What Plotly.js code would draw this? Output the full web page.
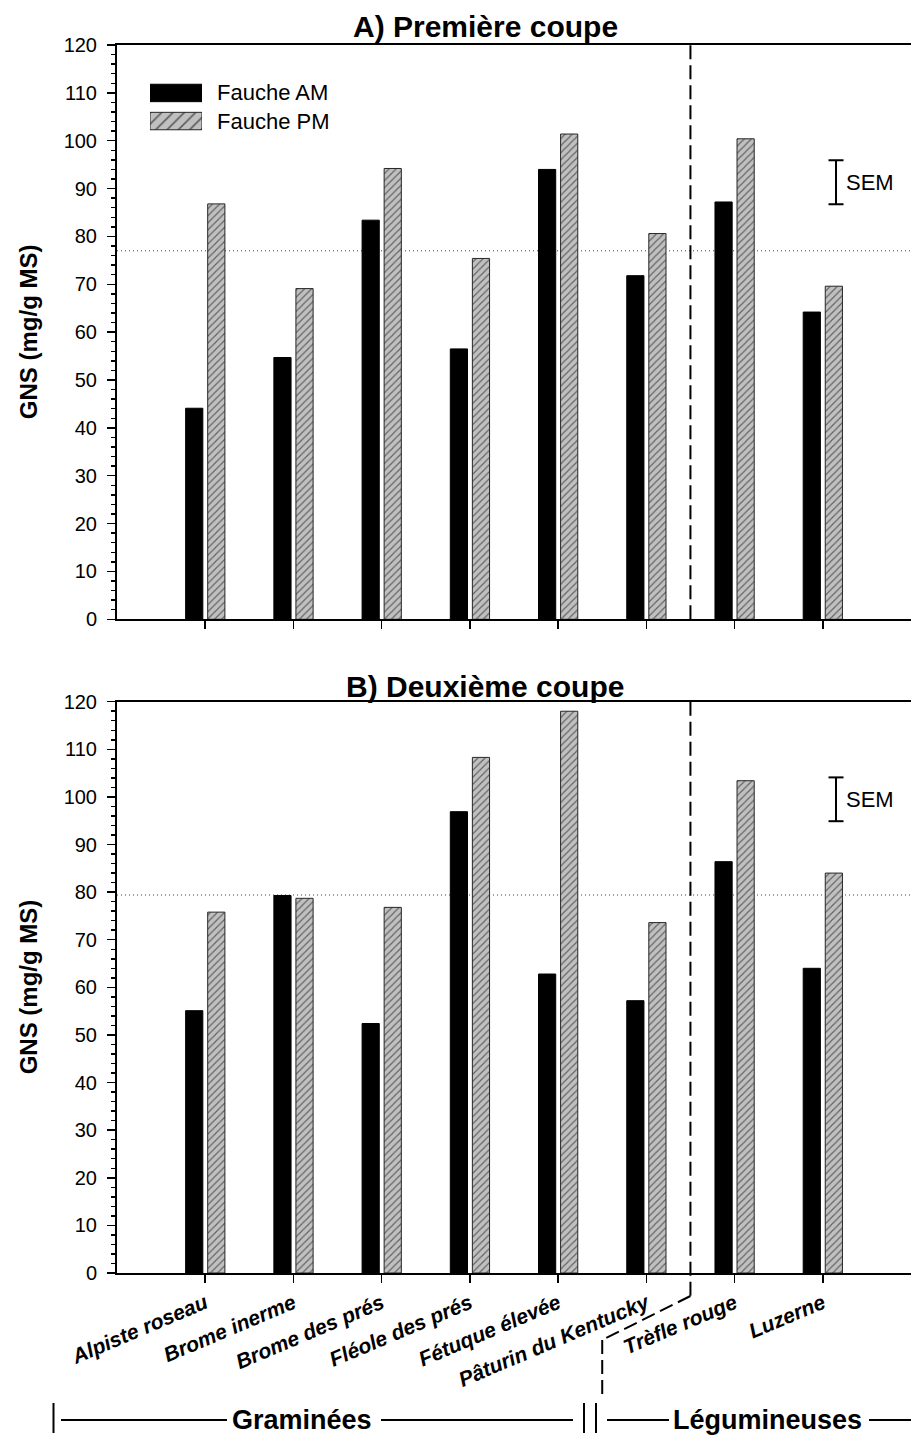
<!DOCTYPE html>
<html><head><meta charset="utf-8">
<script src="https://cdn.plot.ly/plotly-3.0.1.min.js"></script>
<style>html,body{margin:0;padding:0;background:#fff}#chart{width:911px;height:1436px}</style>
</head><body><div id="chart"></div>
<script>
// ---- data ----
const categories = ['Alpiste roseau','Brome inerme','Brome des prés','Fléole des prés','Fétuque élevée','Pâturin du Kentucky','Trèfle rouge','Luzerne'];
const legendNames = ['Fauche AM','Fauche PM'];
const amCut1 = [44.1, 54.7, 83.4, 56.5, 94.0, 71.8, 87.2, 64.2];
const pmCut1 = [86.8, 69.1, 94.2, 75.4, 101.4, 80.6, 100.4, 69.6];
const amCut2 = [55.1, 79.3, 52.4, 96.9, 62.8, 57.2, 86.4, 64.0];
const pmCut2 = [75.8, 78.7, 76.8, 108.3, 118.0, 73.6, 103.4, 84.0];
const meanLine = [77.0, 79.4];
const semCenter = [91.3, 99.5];
const semSize = [9.2, 9.2];
const panelTitles = ['A) Première coupe','B) Deuxième coupe'];
const groupNames = ['Graminées','Légumineuses'];
const yTitle = 'GNS (mg/g MS)';
const semLabel = 'SEM';

// ---- layout geometry ----
const W = 911, H = 1436, L = 117, R = 0, T = 45, B = 163;
const PW = W - L - R, PH = H - T - B;
const px2x = p => (p - L) / PW;
const px2y = p => (H - B - p) / PH;
const FONT = 'Liberation Sans, Arial, Helvetica, sans-serif';

const amMarker = {color:'#000000', line:{color:'#000000', width:1}};
const pmMarker = s => ({color:'#c0c0c0', line:{color:'#262626', width:1},
  pattern:{shape:'/', fgcolor:'#000000', bgcolor:'#c0c0c0', size:s, solidity:0.22, fillmode:'overlay'}});

const traces = [];
[[amCut1, pmCut1, 'x', 'y'], [amCut2, pmCut2, 'x2', 'y2']].forEach(([am, pm, xa, ya]) => {
  traces.push({type:'bar', x:categories, y:am, xaxis:xa, yaxis:ya, width:0.195, offset:-0.222,
    marker:amMarker, showlegend:false, hoverinfo:'x+y'});
  traces.push({type:'bar', x:categories, y:pm, xaxis:xa, yaxis:ya, width:0.195, offset:0.028,
    marker:pmMarker(5), showlegend:false, hoverinfo:'x+y'});
});
// legend swatches on their own small axes
traces.push({type:'bar', orientation:'h', x:[1], y:[legendNames[0]], xaxis:'x3', yaxis:'y3', width:0.62,
  marker:amMarker, showlegend:false, hoverinfo:'skip'});
traces.push({type:'bar', orientation:'h', x:[1], y:[legendNames[1]], xaxis:'x3', yaxis:'y3', width:0.62,
  marker:pmMarker(8), showlegend:false, hoverinfo:'skip'});

const xBase = {type:'category', categoryarray:categories, categoryorder:'array', range:[-1, 8],
  showline:true, linecolor:'#000', linewidth:2, mirror:true, ticks:'outside', ticklen:8, tickwidth:1.5,
  tickcolor:'#000', showgrid:false, zeroline:false, fixedrange:true};
const yBase = {range:[0,120], dtick:10, tick0:0, showline:true, linecolor:'#000', linewidth:2,
  ticks:'outside', ticklen:8, tickwidth:1.5, tickcolor:'#000', showgrid:false, zeroline:false,
  ticklabelstandoff:6, tickfont:{family:FONT, size:20, color:'#000'},
  minor:{dtick:2, ticks:'outside', ticklen:4, tickwidth:1.5, tickcolor:'#000', showgrid:false}, fixedrange:true};

const yTopDom = [px2y(619.3), 1];
const yBotDom = [0, px2y(701.7)];

const layout = {
  width:W, height:H, margin:{l:L, r:R, t:T, b:B, pad:0},
  paper_bgcolor:'#fff', plot_bgcolor:'rgba(0,0,0,0)', showlegend:false, barmode:'overlay',
  font:{family:FONT, color:'#000'},
  xaxis: Object.assign({}, xBase, {anchor:'y', showticklabels:false}),
  yaxis: Object.assign({}, yBase, {anchor:'x', domain:yTopDom}),
  xaxis2: Object.assign({}, xBase, {anchor:'y2', showticklabels:true, tickangle:-23,
    tickfont:{family:FONT, size:21, weight:'bold', style:'italic', color:'#000'}}),
  yaxis2: Object.assign({}, yBase, {anchor:'x2', domain:yBotDom}),
  xaxis3: {domain:[px2x(150), px2x(202)], anchor:'y3', range:[0,1], visible:false, fixedrange:true},
  yaxis3: {domain:[px2y(135.1), px2y(78.9)], anchor:'x3', type:'category', categoryarray:legendNames,
    categoryorder:'array', range:[1.5,-0.5], visible:false, fixedrange:true},
  annotations: [], shapes: []
};

const A = layout.annotations, S = layout.shapes;
const ann = o => A.push(Object.assign({showarrow:false, xanchor:'center', yanchor:'middle'}, o));
// panel titles
ann({xref:'paper', yref:'paper', x:px2x(485), y:px2y(27), text:panelTitles[0],
  font:{family:FONT, size:30, weight:'bold'}});
ann({xref:'paper', yref:'paper', x:px2x(485), y:px2y(686), text:panelTitles[1],
  font:{family:FONT, size:30, weight:'bold'}});
// y titles
[yTopDom, yBotDom].forEach(d => ann({xref:'paper', yref:'paper', x:px2x(28), y:(d[0]+d[1])/2,
  text:yTitle, textangle:-90, font:{family:FONT, size:24, weight:'bold'}}));
// legend labels
legendNames.forEach((n,i) => ann({xref:'paper', yref:'y3', x:px2x(215), y:i, xanchor:'left',
  text:n, font:{family:FONT, size:22}}));
// mean lines and SEM
[['x','y'],['x2','y2']].forEach(([xa,ya],i) => {
  S.push({type:'line', xref:xa+' domain', x0:0, x1:1, yref:ya, y0:meanLine[i], y1:meanLine[i],
    line:{color:'#444', width:1, dash:'1px,3px'}, layer:'below'});
  const sx = 7.15, c = semCenter[i], h = semSize[i]/2, cw = 0.085;
  S.push({type:'line', xref:xa, yref:ya, x0:sx, x1:sx, y0:c-h, y1:c+h, line:{color:'#000', width:2}});
  S.push({type:'line', xref:xa, yref:ya, x0:sx-cw, x1:sx+cw, y0:c-h, y1:c-h, line:{color:'#000', width:2}});
  S.push({type:'line', xref:xa, yref:ya, x0:sx-cw, x1:sx+cw, y0:c+h, y1:c+h, line:{color:'#000', width:2}});
  ann({xref:xa, yref:ya, x:sx, y:c, xanchor:'left', xshift:8, text:semLabel,
    font:{family:FONT, size:22}});
});
// dashed divider between grasses and legumes
const dash = {color:'#000', width:2, dash:'14px,6px'};
S.push({type:'line', xref:'x', yref:'y domain', x0:5.5, x1:5.5, y0:0, y1:1, line:dash});
S.push({type:'line', xref:'x2', yref:'paper', x0:5.5, x1:5.5, y0:yBotDom[1], y1:px2y(1296), line:dash});
S.push({type:'line', xref:'x2', yref:'paper', x0:5.5, x1:4.5, y0:px2y(1296), y1:px2y(1340), line:dash});
S.push({type:'line', xref:'x2', yref:'paper', x0:4.5, x1:4.5, y0:px2y(1340), y1:px2y(1395), line:dash});
// group labels at the bottom
const gy = px2y(1420);
ann({xref:'paper', yref:'paper', x:px2x(302), y:gy, text:groupNames[0],
  font:{family:FONT, size:27, weight:'bold'}});
ann({xref:'paper', yref:'paper', x:px2x(767), y:gy, text:groupNames[1],
  font:{family:FONT, size:27, weight:'bold'}});
[[61,227],[381,573],[607,669],[869,911]].forEach(([a,b]) =>
  S.push({type:'line', xref:'paper', yref:'paper', x0:px2x(a), x1:px2x(b), y0:gy, y1:gy, line:{color:'#000', width:2}}));
[53.5, 584, 596].forEach(p =>
  S.push({type:'line', xref:'paper', yref:'paper', x0:px2x(p), x1:px2x(p), y0:px2y(1403), y1:px2y(1433), line:{color:'#000', width:2}}));

Plotly.newPlot('chart', traces, layout, {displayModeBar:false, staticPlot:true});
</script></body></html>
